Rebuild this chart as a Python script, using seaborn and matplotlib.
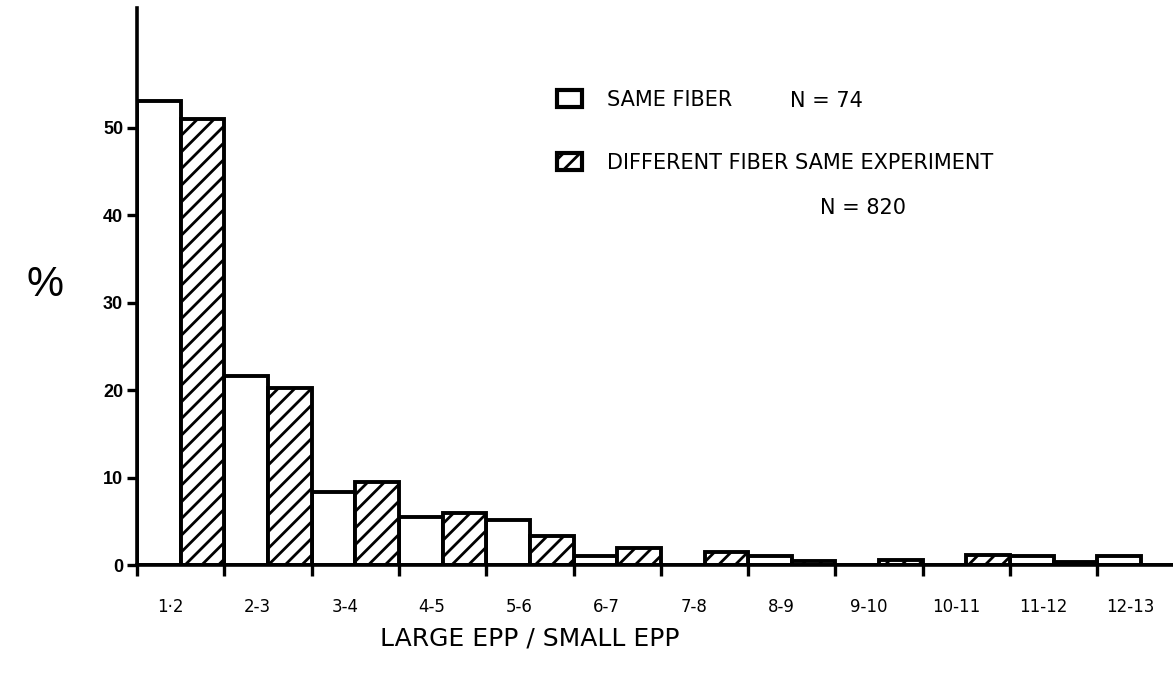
import matplotlib
matplotlib.use("Agg")
import matplotlib.pyplot as plt
from matplotlib.patches import Patch
import numpy as np
import pandas as pd
import seaborn as sns

# Ratio classes of large EPP to small EPP
ratio_labels = ["1\u00b72", "2-3", "3-4", "4-5", "5-6", "6-7", "7-8",
                "8-9", "9-10", "10-11", "11-12", "12-13"]
# Percent of pairs in each class
same_fiber = [53.1, 21.6, 8.3, 5.5, 5.1, 1.0, 0.0, 1.0, 0.0, 0.0, 1.0, 1.0]
diff_fiber = [51.0, 20.2, 9.5, 5.9, 3.3, 1.9, 1.5, 0.5, 0.6, 1.1, 0.3, 0.0]
series_names = ["SAME FIBER", "DIFFERENT FIBER SAME EXPERIMENT"]
n_counts = ["N = 74", "N = 820"]
y_ticks = [0, 10, 20, 30, 40, 50]

df = pd.DataFrame({
    "ratio": ratio_labels * 2,
    "series": [series_names[0]] * len(ratio_labels) + [series_names[1]] * len(ratio_labels),
    "pct": same_fiber + diff_fiber,
})

sns.set_style("ticks")
plt.rcParams["font.family"] = ["Liberation Sans", "DejaVu Sans"]
plt.rcParams["text.color"] = "black"
plt.rcParams["xtick.color"] = "black"
plt.rcParams["ytick.color"] = "black"
plt.rcParams["axes.edgecolor"] = "black"
plt.rcParams["hatch.linewidth"] = 2.0
plt.rcParams["hatch.color"] = "black"

W, H = 1173, 679
fig = plt.figure(figsize=(W / 100, H / 100), dpi=100)
ax_left, ax_bottom = 137 / W, 1 - 565 / H
ax = fig.add_axes([ax_left, ax_bottom, 1 - ax_left + 0.01, 1 - 8 / H - ax_bottom])

sns.barplot(data=df, x="ratio", y="pct", hue="series", order=ratio_labels,
            hue_order=series_names, palette=["white", "white"], width=1.0,
            dodge=True, edgecolor="black", linewidth=2.8, legend=False, ax=ax)

for bar in ax.containers[1]:
    bar.set_hatch("//")

ax.set_ylim(0, 63.7)
ax.set_xlim(-0.5, -0.5 + (W - 137) / 87.7)

# Boundary tick marks between classes; class names sit under each pair
ax.set_xticks(np.arange(len(ratio_labels) + 1) - 0.5)
ax.set_xticklabels([])
ax.tick_params(axis="x", length=8, width=2.4, direction="out", bottom=True)
for i, lab in enumerate(ratio_labels):
    ax.text(i - 0.12, -0.075, lab, transform=ax.get_xaxis_transform(),
            ha="center", va="center", fontsize=12, family=["DejaVu Sans"])

ax.set_yticks(y_ticks)
ax.set_yticklabels([str(t) for t in y_ticks], fontsize=13, fontweight="bold")
ax.tick_params(axis="y", length=7, width=2.4, pad=3)

ax.set_xlabel("")
ax.set_ylabel("")
sns.despine(ax=ax, top=True, right=True)
for s in ("left", "bottom"):
    ax.spines[s].set_linewidth(2.6)

fig.text(45 / W, 1 - 285 / H, "%", fontsize=30, ha="center", va="center")
fig.text(530 / W, 1 - 638 / H, "LARGE EPP / SMALL EPP", fontsize=18,
         ha="center", va="center", family=["DejaVu Sans"])

handles = [Patch(facecolor="white", edgecolor="black", linewidth=3.0),
           Patch(facecolor="white", edgecolor="black", linewidth=3.0, hatch="//")]
fig.legend(handles, series_names, loc="upper left",
           bbox_to_anchor=(557 / W, 1 - 90 / H), frameon=False,
           prop={"family": "DejaVu Sans", "size": 15},
           handlelength=1.2, handleheight=0.87, handletextpad=1.2,
           labelspacing=2.05, borderpad=0, borderaxespad=0)
fig.text(790 / W, 1 - 101 / H, n_counts[0], fontsize=15, va="center",
         ha="left", family=["DejaVu Sans"])
fig.text(820 / W, 1 - 208 / H, n_counts[1], fontsize=15, va="center",
         ha="left", family=["DejaVu Sans"])

fig.savefig("out.png", dpi=100)
